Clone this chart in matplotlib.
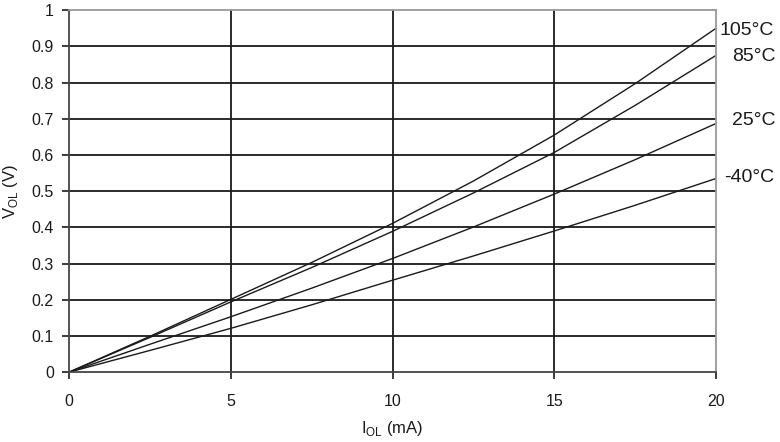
import matplotlib
matplotlib.use('Agg')
import matplotlib.pyplot as plt

plt.rcParams['font.family'] = ['Liberation Sans', 'DejaVu Sans']
plt.rcParams['mathtext.fontset'] = 'custom'
plt.rcParams['mathtext.rm'] = 'Liberation Sans'

# IOL (mA) vs VOL (V) for each temperature
iol = [0, 2.5, 5, 7.5, 10, 12.5, 15, 17.5, 20]
vol_105 = [0, 0.099, 0.201, 0.303, 0.411, 0.528, 0.655, 0.797, 0.950]
vol_85 = [0, 0.096, 0.194, 0.289, 0.389, 0.495, 0.607, 0.737, 0.875]
vol_25 = [0, 0.077, 0.153, 0.232, 0.314, 0.401, 0.492, 0.587, 0.687]
vol_m40 = [0, 0.060, 0.121, 0.186, 0.254, 0.321, 0.390, 0.461, 0.535]

labels = ['105°C', '85°C', '25°C', '-40°C']
label_x = [20.12, 20.5, 20.48, 20.25]
label_y = [0.945, 0.872, 0.696, 0.539]

fig = plt.figure(figsize=(7.8, 4.42), dpi=100)
ax = fig.add_axes([0.0885, 0.158, 0.8295, 0.819])

for x in [5, 10, 15]:
    ax.axvline(x, color='#1a1a1a', lw=1.3, zorder=1)
for i in range(1, 10):
    ax.axhline(i / 10, color='#1a1a1a', lw=1.3, zorder=1)

for vals in [vol_105, vol_85, vol_25, vol_m40]:
    ax.plot(iol, vals, color='#1a1a1a', lw=1.0, zorder=2)

for lab, lx, ly in zip(labels, label_x, label_y):
    ax.text(lx, ly, lab, fontsize=14, va='center', ha='left', clip_on=False, color='#1a1a1a')

ax.set_xlim(0, 20)
ax.set_ylim(0, 1)
ax.set_xticks([0, 5, 10, 15, 20])
ax.set_yticks([i / 10 for i in range(11)])
ax.set_yticklabels(['0', '0.1', '0.2', '0.3', '0.4', '0.5', '0.6', '0.7', '0.8', '0.9', '1'])

ax.spines['top'].set_color('#999999')
ax.spines['right'].set_color('#999999')
ax.spines['top'].set_linewidth(1.3)
ax.spines['right'].set_linewidth(1.3)
ax.spines['left'].set_color('#444444')
ax.spines['bottom'].set_color('#444444')
ax.spines['left'].set_linewidth(1.3)
ax.spines['bottom'].set_linewidth(1.3)

ax.tick_params(axis='both', direction='out', length=5, width=1.2, color='#1a1a1a',
               labelsize=11.5, labelcolor='#1a1a1a')
ax.tick_params(axis='x', pad=11)
ax.tick_params(axis='y', pad=6)

ax.set_xlabel(r'I$_{\mathregular{OL}}$ (mA)', fontsize=12, color='#1a1a1a', labelpad=7)
ax.set_ylabel(r'V$_{\mathregular{OL}}$ (V)', fontsize=12, color='#1a1a1a', labelpad=8)

fig.savefig('out.png', dpi=100)
